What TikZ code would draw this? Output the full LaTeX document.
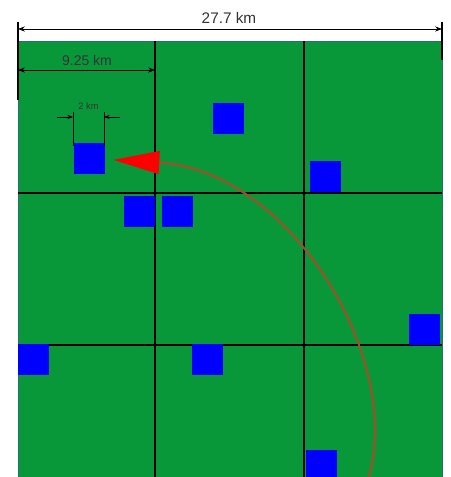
\documentclass[tikz,border=0pt]{standalone}
\usepackage{fontspec}
\setsansfont{Liberation Sans}
\usetikzlibrary{arrows.meta}

\definecolor{field}{RGB}{8,152,58}
\definecolor{fieldedge}{RGB}{40,110,120}
\definecolor{routebrown}{RGB}{160,80,40}

\begin{document}
\begin{tikzpicture}[
    x=0.75pt, y=-0.75pt,
    site/.style={rectangle, fill=blue, inner sep=0pt, minimum size=23.25pt},
    gridline/.style={line width=0.8pt, draw=black},
    dim/.style={{Stealth[scale=0.9]}-{Stealth[scale=0.9]}, line width=0.6pt},
    dimtick/.style={line width=0.9pt},
    dimlabel/.style={font=\sffamily\fontsize{10.5}{12}\selectfont, text=black!80, inner sep=0pt},
    route/.style={draw=routebrown, line width=1.6pt, -{Triangle[length=34.5pt, width=17pt, color=red, fill=red]}}
]
\clip (0,0) rectangle (450,477);

% Field and cell grid
\fill[field, draw=fieldedge, line width=0.6pt] (18,41) rectangle (442,480);
\draw[gridline] (155,41) -- (155,480);
\draw[gridline] (304,41) -- (304,480);
\draw[gridline] (18,193) -- (442,193);
\draw[gridline] (18,345) -- (442,345);

% Sites
\node[site] (sq1) at (89,158.5) {};
\node[site] (sq2) at (228,118.5) {};
\node[site] (sq3) at (325,176.5) {};
\node[site] (sq4) at (139,211.5) {};
\node[site] (sq5) at (177,211.5) {};
\node[site] (sq6) at (424,329) {};
\node[site] (sq7) at (33,359) {};
\node[site] (sq8) at (207,359.5) {};
\node[site] (sq9) at (321,465) {};

% Dimensions
\coordinate (wl) at (18,29);
\coordinate (wr) at (442,29);
\coordinate (cl) at (18,70);
\coordinate (cr) at (155,70);
\coordinate (sl) at (73,117);
\coordinate (sr) at (104,117);
\draw[dimtick] (18,22) -- (18,100);
\draw[dimtick] (442,22) -- (442,60);
\draw[dim] (wl) -- (wr);
\node[dimlabel, font=\sffamily\fontsize{11.5}{13}\selectfont] (wlab) at (229,18) {27.7 km};
\draw[dim] (cl) -- (cr);
\node[dimlabel] (clab) at (87,60) {9.25 km};
\draw[line width=0.7pt] (73,112) -- (73,146);
\draw[line width=0.7pt] (104,112) -- (104,146);
\draw[-{Stealth[scale=0.75]}, line width=0.6pt] (57,117) -- (sl);
\draw[-{Stealth[scale=0.75]}, line width=0.6pt] (120,117) -- (sr);
\node[dimlabel, font=\sffamily\fontsize{7}{8}\selectfont] (slab) at (88.5,106) {2 km};

% Route
\coordinate (entry) at (368,480);
\draw[route, shorten >=6.4pt] (entry) .. controls (405,360) and (290,170) .. (sq1);

\end{tikzpicture}
\end{document}
